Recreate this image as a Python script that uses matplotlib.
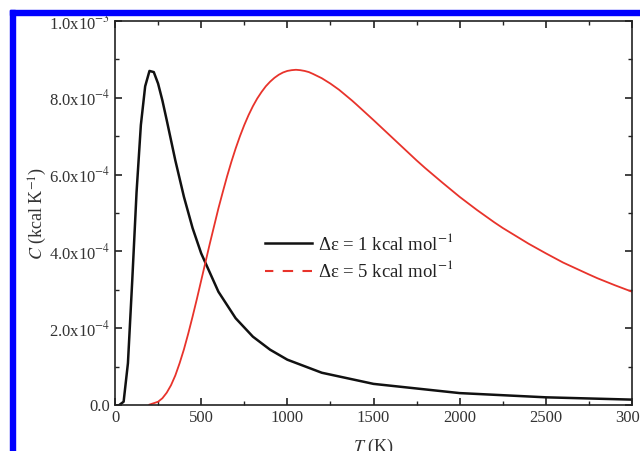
import matplotlib
matplotlib.use("Agg")
import matplotlib.pyplot as plt
from matplotlib.lines import Line2D
from matplotlib.patches import Rectangle
from matplotlib.ticker import MultipleLocator

plt.rcParams['font.family'] = ['Liberation Serif', 'DejaVu Serif']
plt.rcParams['mathtext.fontset'] = 'stix'

# heat capacity, two-level system, kcal/K
T_1 = [25, 50, 75, 100, 125, 150, 175, 200, 225, 250, 275, 300, 350, 400, 450,
       500, 600, 700, 800, 900, 1000, 1200, 1500, 2000, 2500, 3000]
C_1 = [0.0, 8.5e-6, 1.09e-4, 3.24e-4, 5.54e-4, 7.29e-4, 8.30e-4, 8.70e-4, 8.67e-4,
       8.37e-4, 7.93e-4, 7.42e-4, 6.37e-4, 5.42e-4, 4.61e-4, 3.95e-4, 2.95e-4,
       2.26e-4, 1.78e-4, 1.44e-4, 1.18e-4, 8.4e-5, 5.5e-5, 3.1e-5, 2.0e-5, 1.4e-5]

T_5 = [200, 250, 275, 300, 325, 350, 375, 400, 425, 450, 475, 500, 525, 550, 575,
       600, 625, 650, 675, 700, 725, 750, 775, 800, 825, 850, 875, 900, 925, 950,
       975, 1000, 1025, 1050, 1075, 1100, 1125, 1150, 1200, 1250, 1300, 1375, 1400,
       1500, 1600, 1700, 1750, 1800, 1900, 2000, 2100, 2200, 2250, 2400, 2500,
       2600, 2750, 2800, 2900, 3000]
C_5 = [1.0e-6, 8.5e-6, 1.76e-5, 3.2e-5, 5.15e-5, 7.7e-5, 1.09e-4, 1.45e-4, 1.86e-4,
       2.30e-4, 2.76e-4, 3.24e-4, 3.72e-4, 4.20e-4, 4.66e-4, 5.12e-4, 5.54e-4,
       5.95e-4, 6.33e-4, 6.68e-4, 7.00e-4, 7.29e-4, 7.55e-4, 7.78e-4, 7.98e-4,
       8.15e-4, 8.30e-4, 8.42e-4, 8.52e-4, 8.60e-4, 8.66e-4, 8.70e-4, 8.72e-4,
       8.73e-4, 8.72e-4, 8.70e-4, 8.67e-4, 8.62e-4, 8.51e-4, 8.37e-4, 8.21e-4,
       7.93e-4, 7.83e-4, 7.42e-4, 7.00e-4, 6.58e-4, 6.37e-4, 6.17e-4, 5.79e-4,
       5.42e-4, 5.08e-4, 4.76e-4, 4.61e-4, 4.20e-4, 3.95e-4, 3.71e-4, 3.40e-4,
       3.30e-4, 3.12e-4, 2.95e-4]

y_ticks = [0.0, 2e-4, 4e-4, 6e-4, 8e-4, 1e-3]
y_labels = ['0.0', '2.0x10$^{-4}$', '4.0x10$^{-4}$', '6.0x10$^{-4}$',
            '8.0x10$^{-4}$', '1.0x10$^{-3}$']
x_ticks = [0, 500, 1000, 1500, 2000, 2500, 3000]

fig = plt.figure(figsize=(6.4, 4.51), dpi=100)
ax = fig.add_axes([0.1797, 0.102, 0.8078, 0.8514])

ax.plot(T_1, C_1, color='#111111', lw=1.8)
ax.plot(T_5, C_5, color='#e8332b', lw=1.3)

ax.set_xlim(0, 3000)
ax.set_ylim(0, 1e-3)
ax.set_xticks(x_ticks)
ax.set_xticklabels([str(t) for t in x_ticks])
ax.set_yticks(y_ticks)
ax.set_yticklabels(y_labels)
ax.xaxis.set_minor_locator(MultipleLocator(250))
ax.yaxis.set_minor_locator(MultipleLocator(1e-4))
ax.tick_params(which='both', direction='in', top=True, right=True,
               labelsize=12, labelcolor='#333333', color='#222222')
ax.tick_params(which='major', length=5, width=1.2)
ax.tick_params(which='minor', length=3, width=1.0)
for s in ax.spines.values():
    s.set_linewidth(1.2)
    s.set_color('#222222')

ax.set_xlabel('$T$ (K)', fontsize=13, color='#333333', labelpad=8)
ax.set_ylabel('$C$ (kcal K$^{-1}$)', fontsize=13, color='#333333', labelpad=0)

handles = [Line2D([], [], color='#111111', lw=1.8),
           Line2D([], [], color='#e8332b', lw=1.5, ls=(1, (5, 4.5)))]
ax.legend(handles, ['Δε = 1 kcal mol$^{-1}$', 'Δε = 5 kcal mol$^{-1}$'],
          loc='center left', bbox_to_anchor=(0.257, 0.385), frameon=False,
          fontsize=13.5, handlelength=2.5, handletextpad=0.35,
          labelspacing=0.35, labelcolor='#222222')

# blue frame on the left and top edges
fig.patches.append(Rectangle((10 / 640, 0), 5 / 640, 1 - 10 / 451,
                             transform=fig.transFigure, color='#0000ff', zorder=5))
fig.patches.append(Rectangle((10 / 640, 1 - 15 / 451), 1, 5 / 451,
                             transform=fig.transFigure, color='#0000ff', zorder=5))

fig.savefig('out.png', dpi=100)
